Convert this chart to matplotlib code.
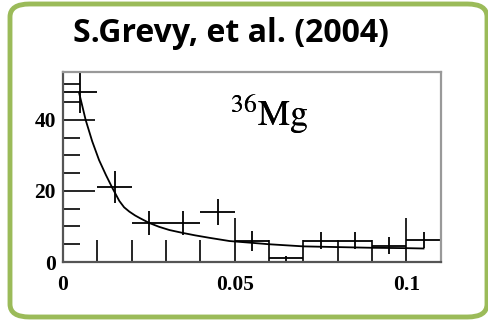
"""Angular distribution plot for 36Mg with fit curve."""

import matplotlib.pyplot as plt
import matplotlib
from matplotlib.patches import FancyBboxPatch
from matplotlib.ticker import MultipleLocator
import numpy as np

matplotlib.rcParams.update({
    "mathtext.fontset": "stix",
    "font.family": "Liberation Serif",
})

# ── Data ────────────────────────────────────────────────────────────────
bin_centers = [0.005, 0.015, 0.025, 0.035, 0.045, 0.055, 0.065, 0.075, 0.085, 0.095, 0.105]
counts = [48.0, 21.2, 11.0, 11.0, 14.0, 6.0, 1.0, 6.0, 6.0, 4.6, 6.2]
count_err = [6.0, 4.5, 3.3, 3.3, 3.7, 2.8, 0.7, 2.4, 2.4, 2.3, 2.3]
bin_half_width = 0.005

fit_x = [0.0047, 0.0066, 0.0085, 0.0105, 0.0125, 0.0144, 0.0164, 0.0178, 0.0193, 0.021,
         0.0225, 0.0251, 0.028, 0.031, 0.0348, 0.0385, 0.0427, 0.0485, 0.055, 0.06,
         0.065, 0.07, 0.08, 0.09, 0.1, 0.105]
fit_y = [47.6, 40.0, 34.0, 28.7, 24.5, 20.8, 17.2, 15.4, 14.2, 13.1,
         12.3, 11.0, 9.9, 9.0, 8.2, 7.5, 6.8, 5.9, 5.4, 5.0,
         4.7, 4.4, 4.2, 4.0, 3.9, 3.8]

TITLE = "S.Grevy, et al. (2004)"
NUCLEUS = r"$^{36}\mathrm{Mg}$"

W, H = 489, 321
fig = plt.figure(figsize=(W / 100, H / 100), dpi=100)

# Green rounded frame around the panel
frame = FancyBboxPatch((10 / W, 4 / H), 477 / W, 313 / H,
                       boxstyle="round,pad=0,rounding_size=0.04",
                       transform=fig.transFigure, facecolor="none",
                       edgecolor="#9BBB59", linewidth=3.5)
fig.patches.append(frame)

fig.text(0.473, 0.897, TITLE, ha="center", va="center",
         fontsize=23, fontweight="bold", family="Open Sans")

ax = fig.add_axes([63 / W, 1 - 262 / H, (440.7 - 63) / W, (262 - 72) / H])

ax.errorbar(bin_centers, counts, yerr=count_err, xerr=bin_half_width,
            fmt="none", ecolor="black", elinewidth=1.3, capsize=0)
ax.plot(fit_x, fit_y, color="black", linewidth=1.3)

# nucleus label, drawn twice with a slight offset for a heavier stroke
for dx in (0.0, 0.00012):
    ax.text(0.0600 + dx, 41.8, NUCLEUS, fontsize=26, ha="center", va="center")

ax.set_xlim(0, 0.11)
ax.set_ylim(0, 53.5)
ax.set_xticks([0, 0.05, 0.1])
ax.set_xticklabels(["0", "0.05", "0.1"])
ax.set_yticks([0, 20, 40])
ax.xaxis.set_minor_locator(MultipleLocator(0.01))
ax.yaxis.set_minor_locator(MultipleLocator(5))

ax.tick_params(which="both", direction="in", top=False, right=False,
               labelsize=15.5, colors="black", width=1.2)
ax.tick_params(axis="x", which="major", length=32, pad=9.5)
ax.tick_params(axis="x", which="minor", length=16)
ax.tick_params(axis="y", which="major", length=23, pad=5)
ax.tick_params(axis="y", which="minor", length=12)
for lbl in ax.get_xticklabels() + ax.get_yticklabels():
    lbl.set_fontweight("bold")

for side in ("left", "bottom"):
    ax.spines[side].set_color("#555555")
    ax.spines[side].set_linewidth(1.6)
for side in ("top", "right"):
    ax.spines[side].set_color("#999999")
    ax.spines[side].set_linewidth(1.6)

plt.savefig("out.png", dpi=100)
